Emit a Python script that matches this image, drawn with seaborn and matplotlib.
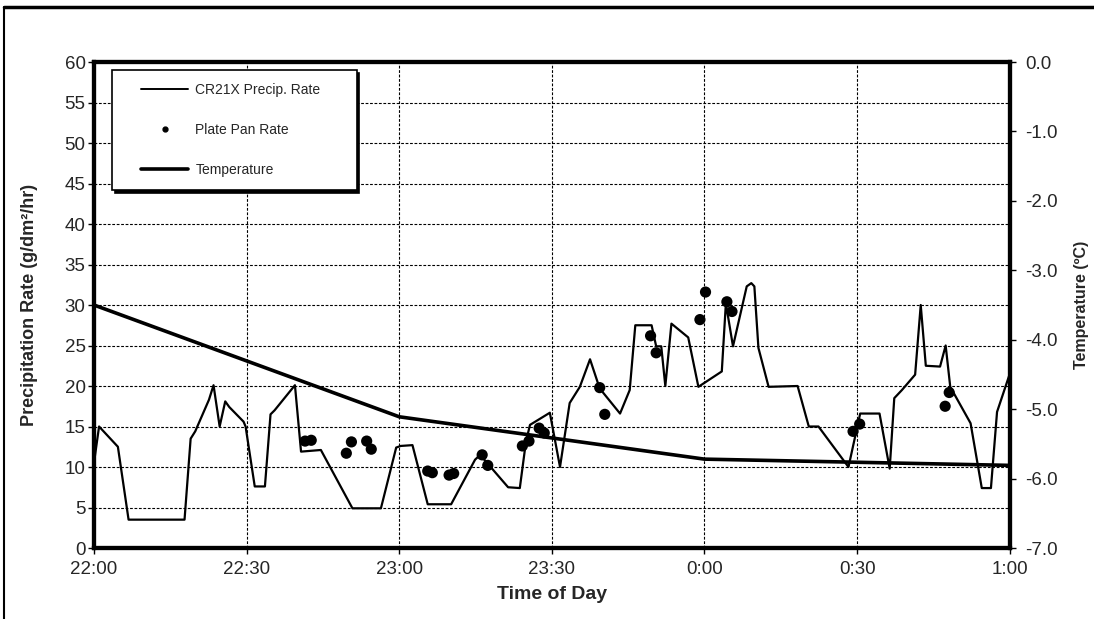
import matplotlib
matplotlib.use("Agg")
import matplotlib.pyplot as plt
import seaborn as sns
import pandas as pd
from matplotlib.lines import Line2D
from matplotlib.legend_handler import HandlerLine2D

# --- data (minutes after 22:00) ---
precip_minutes = [0, 1, 4.7, 6.8, 17.8, 19, 19.9, 22.6, 23.5, 24.7, 25.8, 26.6, 29.4, 29.8,
                  31.6, 33.6, 34.7, 35.5, 39.5, 40.7, 44.6, 50.8, 56.4, 59.4, 60.3, 62.6,
                  65.6, 70.2, 74.9, 75.9, 81.4, 83.7, 84.9, 85.7, 89.6, 91.6, 93.5, 95.5,
                  97.5, 99.4, 103.4, 105.3, 106.4, 109.6, 110.5, 111.5, 112.3, 113.5, 116.8,
                  118.8, 123.4, 124.2, 125.6, 128.3, 129.2, 129.8, 130.6, 132.6, 138.3,
                  140.5, 142.4, 148.3, 150.6, 154.4, 156.4, 157.3, 158.8, 161.4, 162.5,
                  163.5, 166.3, 167.4, 168.3, 172.3, 174.5, 176.3, 177.5, 180]
precip_rate = [10.5, 15, 12.5, 3.5, 3.5, 13.5, 14.4, 18.3, 20.1, 15, 18.1, 17.4, 15.6, 15,
               7.6, 7.6, 16.5, 17, 20.1, 11.9, 12.1, 4.9, 4.9, 12.4, 12.6, 12.7,
               5.4, 5.4, 10.9, 11.5, 7.5, 7.4, 13.1, 15.2, 16.7, 10, 17.9, 19.9,
               23.3, 19.7, 16.6, 19.5, 27.5, 27.5, 24.9, 24.9, 20, 27.7, 26,
               19.9, 21.8, 30.2, 24.9, 32.3, 32.7, 32.3, 24.7, 19.9, 20,
               15, 15, 10, 16.6, 16.6, 9.8, 18.5, 19.5, 21.4, 30,
               22.5, 22.4, 25, 19.9, 15.4, 7.4, 7.4, 16.8, 21.5]

pan_minutes = [41.5, 42.7, 49.6, 50.6, 53.6, 54.5, 65.6, 66.5, 69.8, 70.7, 76.3, 77.4,
               84.2, 85.5, 87.5, 88.5, 99.4, 100.4, 109.4, 110.5, 119.1, 120.2, 124.4,
               125.4, 149.2, 150.5, 167.3, 168.1]
pan_rate = [13.2, 13.3, 11.7, 13.1, 13.2, 12.2, 9.5, 9.3, 9.0, 9.2, 11.5, 10.2,
            12.6, 13.2, 14.8, 14.2, 19.8, 16.5, 26.2, 24.1, 28.2, 31.6, 30.4,
            29.2, 14.4, 15.3, 17.5, 19.2]

temp_minutes = [0, 60, 120, 180]
temp_c = [-3.5, -5.11, -5.72, -5.81]

time_ticks = [0, 30, 60, 90, 120, 150, 180]
time_labels = ["22:00", "22:30", "23:00", "23:30", "0:00", "0:30", "1:00"]
precip_ticks = list(range(0, 61, 5))
temp_ticks = [0.0, -1.0, -2.0, -3.0, -4.0, -5.0, -6.0, -7.0]

precip_df = pd.DataFrame({"minute": precip_minutes, "rate": precip_rate})
pan_df = pd.DataFrame({"minute": pan_minutes, "rate": pan_rate})
temp_df = pd.DataFrame({"minute": temp_minutes, "temp": temp_c})

# --- style ---
sns.set_style("white")
plt.rcParams["font.family"] = ["Liberation Sans", "DejaVu Sans"]
plt.rcParams["axes.unicode_minus"] = False

fig = plt.figure(figsize=(10.94, 6.19), dpi=100)
ax = fig.add_axes([0.0859, 0.1147, 0.8371, 0.7851])

sns.lineplot(data=precip_df, x="minute", y="rate", ax=ax, color="black", lw=1.6,
             estimator=None, label="CR21X Precip. Rate")
sns.scatterplot(data=pan_df, x="minute", y="rate", ax=ax, color="black", s=65,
                edgecolor="none", label="Plate Pan Rate")

ax2 = ax.twinx()
sns.lineplot(data=temp_df, x="minute", y="temp", ax=ax2, color="black", lw=2.6,
             estimator=None, label="Temperature")

ax.set_xlim(0, 180)
ax.set_ylim(0, 60)
ax2.set_ylim(-7, 0)

ax.set_xticks(time_ticks)
ax.set_xticklabels(time_labels)
ax.set_yticks(precip_ticks)
ax2.set_yticks(temp_ticks)
ax2.set_yticklabels([f"{t:.1f}" for t in temp_ticks])

ax.grid(True, color="black", linestyle=(0, (2.5, 1.5)), lw=0.8)
ax.set_axisbelow(True)

for a in (ax, ax2):
    for s in a.spines.values():
        s.set_linewidth(3)
        s.set_color("black")
    a.tick_params(length=4, width=1, color="black", labelsize=13.5, direction="out")
ax.tick_params(axis="y", left=True, pad=2)
ax.tick_params(axis="x", bottom=True, pad=5)
ax2.tick_params(axis="y", right=True, pad=7)

ax.set_xlabel("Time of Day", fontsize=14, fontweight="bold", labelpad=6)
ax.set_ylabel("Precipitation Rate (g/dm²/hr)", fontsize=13, fontweight="bold", labelpad=19)
ax2.set_ylabel("Temperature (ºC)", fontsize=11.5, fontweight="bold", labelpad=12)

# combined legend
h1, l1 = ax.get_legend_handles_labels()
h2, l2 = ax2.get_legend_handles_labels()
if ax.get_legend():
    ax.get_legend().remove()
if ax2.get_legend():
    ax2.get_legend().remove()
handles = [Line2D([], [], color="black", lw=1.4),
           Line2D([], [], color="black", marker="o", ls="none", markersize=3.5),
           Line2D([], [], color="black", lw=2.6)]
labels = l1 + l2
leg = ax2.legend(handles, labels, loc="upper left", bbox_to_anchor=(0.0197, 0.74, 0.267, 0.2435),
                 mode="expand", fontsize=10, frameon=True, fancybox=False,
                 shadow={"color": "black", "alpha": 1}, borderaxespad=0,
                 labelspacing=1.9, handlelength=4.6, handletextpad=0.5, borderpad=0.9,
                 handler_map={h: HandlerLine2D(xpad=1.22) for h in handles})
leg.get_frame().set_edgecolor("black")
leg.get_frame().set_linewidth(1.2)
leg.get_frame().set_alpha(1)

# outer frame of the figure
fig.add_artist(Line2D([0.0035, 1.0], [0.989, 0.989], transform=fig.transFigure, color="black", lw=2.5))
fig.add_artist(Line2D([0.0035, 0.0035], [0.0, 0.989], transform=fig.transFigure, color="black", lw=1.5))

fig.savefig("out.png", dpi=100)
